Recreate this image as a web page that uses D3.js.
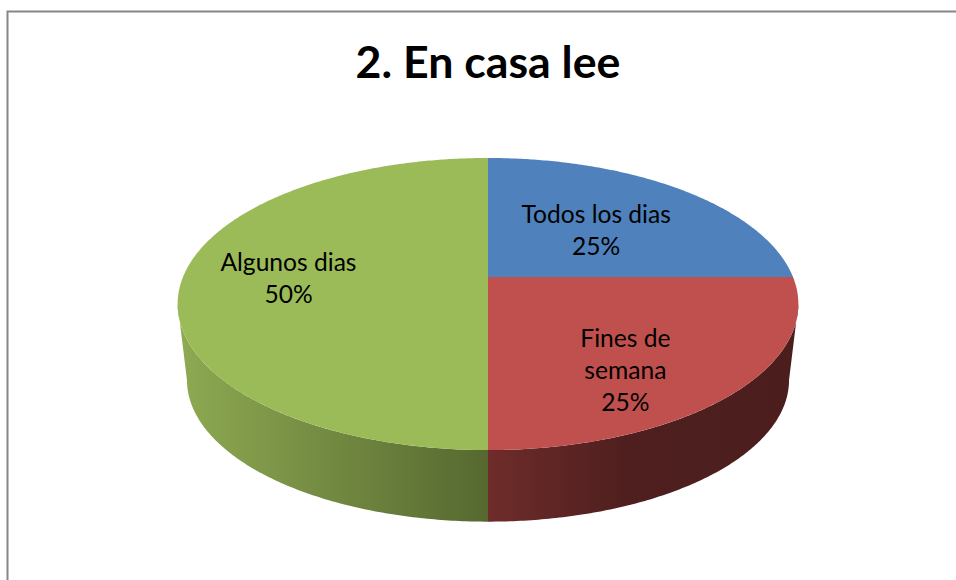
<!DOCTYPE html>
<html>
<head>
<meta charset="utf-8">
<script src="https://cdn.jsdelivr.net/npm/d3@7"></script>
<style>
html, body { margin: 0; padding: 0; background: #fff; }
svg { display: block; }
text { font-family: Lato, "Open Sans", sans-serif; fill: #000; text-anchor: middle; }
</style>
</head>
<body>
<svg id="chart" width="956" height="580"></svg>
<script>
// data
const chartTitle = '2. En casa lee';
const categories = ['Todos los dias', 'Fines de semana', 'Algunos dias'];
const shares = [25, 25, 50];
// label lines as wrapped in the picture
const labelLines = [['Todos los dias'], ['Fines de', 'semana'], ['Algunos dias']];

// colours
const topColors = ['#4f81bd', '#c0504d', '#9bbb59'];
// wall gradients, left to right on screen (the blue slice has no visible wall)
const wallStops = [
    [],
    [[0, '#6e2c2a'], [0.45, '#4e1f1e'], [1, '#4b1e1d']],
    [[0, '#8eaa52'], [1, '#566830']]
];

// layout
const W = 956, H = 580;
const cx = 488;
const planeY = 277;       // y of the pie apex
const halfW = 305;        // half width at planeY
const tilt = 89.8;        // foreshortening of the depth axis
const persp = 0.185;      // perspective strength
const lowerScale = 0.97;  // lower rim is a bit narrower
const lowerShift = 85.1;
const labelOffset = [[7, 1], [22, 41], [-47, 2]];
const lineStep = 32;

const svg = d3.select('#chart');
const defs = svg.append('defs');

// frame
svg.append('path')
    .attr('d', `M${W},11.5 H7.5 V${H}`)
    .attr('fill', 'none')
    .attr('stroke', '#868686')
    .attr('stroke-width', 2);

// title
svg.append('text')
    .attr('x', cx)
    .attr('y', 78)
    .attr('font-size', 44.7)
    .attr('font-weight', 700)
    .text(chartTitle);

// pie angles come from d3, then go through a perspective projection
const arcs = d3.pie().sort(null).value(d => d)(shares);

function project(angle, r, lower) {
    const x = r * Math.sin(angle);
    const y = -r * Math.cos(angle);
    const w = 1 - persp * y;
    let px = cx + halfW * x / w;
    let py = (tilt * y + planeY) / w;
    if (lower) {
        px = cx + (px - cx) * lowerScale;
        py = py * lowerScale + lowerShift;
    }
    return [px, py];
}

function samples(a0, a1) {
    const n = Math.max(2, Math.ceil(Math.abs(a1 - a0) / 0.01));
    return d3.range(n + 1).map(i => a0 + (a1 - a0) * i / n);
}

const line = d3.line();

// rim is only visible between the two points where the ellipse is widest
const tangent = Math.acos(-persp);
const frontStart = tangent, frontEnd = 2 * Math.PI - tangent;

// walls
arcs.forEach((d, i) => {
    const a0 = Math.max(d.startAngle, frontStart);
    const a1 = Math.min(d.endAngle, frontEnd);
    if (a1 <= a0) return;

    const xs = [project(a0, 1, false)[0], project(a1, 1, false)[0]];
    const grad = defs.append('linearGradient')
        .attr('id', 'wall' + i)
        .attr('gradientUnits', 'userSpaceOnUse')
        .attr('x1', d3.min(xs))
        .attr('x2', d3.max(xs))
        .attr('y1', 0)
        .attr('y2', 0);
    wallStops[i].forEach(s => {
        grad.append('stop')
            .attr('offset', s[0])
            .attr('stop-color', s[1]);
    });

    const upper = samples(a0, a1).map(a => project(a, 1, false));
    const lower = samples(a1, a0).map(a => project(a, 1, true));
    svg.append('path')
        .attr('d', line(upper.concat(lower)) + 'Z')
        .attr('fill', `url(#wall${i})`);
});

// top face
arcs.forEach((d, i) => {
    const pts = [project(0, 0, false)].concat(
        samples(d.startAngle, d.endAngle).map(a => project(a, 1, false))
    );
    svg.append('path')
        .attr('d', line(pts) + 'Z')
        .attr('fill', topColors[i]);
});

// labels
arcs.forEach((d, i) => {
    const mid = (d.startAngle + d.endAngle) / 2;
    const p = project(mid, 0.5, false);
    const lines = labelLines[i].concat([shares[i] + '%']);
    const x = p[0] + labelOffset[i][0];
    const y0 = p[1] + labelOffset[i][1] - (lines.length - 1) * lineStep / 2;
    const t = svg.append('text')
        .attr('font-size', 24.6)
        .attr('aria-label', categories[i]);
    lines.forEach((s, j) => {
        t.append('tspan')
            .attr('x', x)
            .attr('y', y0 + j * lineStep + 8)
            .text(s);
    });
});
</script>
</body>
</html>
